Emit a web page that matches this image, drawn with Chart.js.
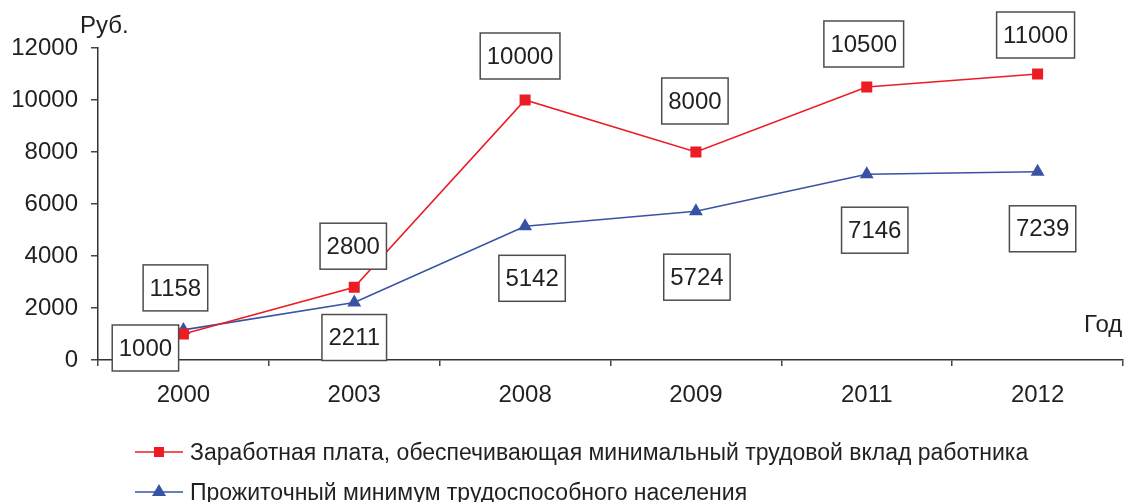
<!DOCTYPE html>
<html>
<head>
<meta charset="utf-8">
<script src="https://cdn.jsdelivr.net/npm/chart.js@4/dist/chart.umd.min.js"></script>
<style>
  html, body { margin: 0; padding: 0; background: #fff; }
  #wrap { width: 1131px; height: 502px; }
</style>
</head>
<body>
<div id="wrap"><canvas id="myChart" width="1131" height="502"></canvas></div>
<script>
const years = ["2000", "2003", "2008", "2009", "2011", "2012"];
const wageValues = [1000, 2800, 10000, 8000, 10500, 11000];
const livingValues = [1158, 2211, 5142, 5724, 7146, 7239];
const yTicks = [0, 2000, 4000, 6000, 8000, 10000, 12000];

const wageName = "Заработная плата, обеспечивающая минимальный трудовой вклад работника";
const livingName = "Прожиточный минимум трудоспособного населения";

const red = "#ed1c24";
const blue = "#3953a4";
const ink = "#231f20";
const font = "'Liberation Sans', Arial, sans-serif";

// where each value box sits relative to its point (px)
const wageBoxOffset = [[-38, 14], [-1, -41], [-5, -44], [-1, -51], [-3, -43], [-2, -39]];
const livingBoxOffset = [[-8, -42], [0, 35], [7, 52], [1, 66], [8, 56], [5, 57]];

const valueBoxes = {
  id: "valueBoxes",
  afterDatasetsDraw(chart) {
    const ctx = chart.ctx;
    ctx.save();
    ctx.font = "24px " + font;
    ctx.textAlign = "center";
    ctx.textBaseline = "middle";
    const sets = [[0, wageBoxOffset], [1, livingBoxOffset]];
    sets.forEach(([di, offs]) => {
      const meta = chart.getDatasetMeta(di);
      const data = chart.data.datasets[di].data;
      meta.data.forEach((pt, i) => {
        const txt = String(data[i]);
        const w = ctx.measureText(txt).width + 13;
        const h = 46;
        const cx = pt.x + offs[i][0];
        const cy = pt.y + offs[i][1];
        ctx.fillStyle = "#fff";
        ctx.fillRect(cx - w / 2, cy - h / 2, w, h);
        ctx.strokeStyle = "#4d4d4d";
        ctx.lineWidth = 1.5;
        ctx.strokeRect(cx - w / 2, cy - h / 2, w, h);
        ctx.fillStyle = ink;
        ctx.fillText(txt, cx, cy + 1);
      });
    });
    ctx.restore();
  },
  afterDraw(chart) {
    const ctx = chart.ctx;
    ctx.save();
    ctx.fillStyle = ink;
    ctx.font = "24px " + font;
    ctx.textBaseline = "alphabetic";
    ctx.textAlign = "left";
    ctx.fillText("Руб.", 80, 33);
    ctx.fillText("Год", 1084, 332);

    // legend
    const rows = [
      { name: wageName, color: red, y: 452, shape: "square" },
      { name: livingName, color: blue, y: 492, shape: "triangle" }
    ];
    rows.forEach(r => {
      ctx.strokeStyle = r.color;
      ctx.lineWidth = 1.5;
      ctx.beginPath();
      ctx.moveTo(135, r.y);
      ctx.lineTo(183, r.y);
      ctx.stroke();
      ctx.fillStyle = r.color;
      if (r.shape === "square") {
        ctx.fillRect(159 - 5, r.y - 5, 10, 10);
      } else {
        ctx.beginPath();
        ctx.moveTo(159, r.y - 8);
        ctx.lineTo(166, r.y + 4);
        ctx.lineTo(152, r.y + 4);
        ctx.closePath();
        ctx.fill();
      }
      ctx.fillStyle = ink;
      ctx.font = "23px " + font;
      ctx.textBaseline = "middle";
      ctx.fillText(r.name, 190, r.y + 2);
    });
    ctx.restore();
  }
};

const ctx = document.getElementById("myChart").getContext("2d");
const myChart = new Chart(ctx, {
  type: "line",
  data: {
    labels: years,
    datasets: [
      {
        label: wageName,
        data: wageValues,
        borderColor: red,
        backgroundColor: red,
        borderWidth: 1.6,
        pointStyle: "rect",
        pointRadius: 7.8,
        pointBorderWidth: 0,
        tension: 0
      },
      {
        label: livingName,
        data: livingValues,
        borderColor: blue,
        backgroundColor: blue,
        borderWidth: 1.6,
        pointStyle: "triangle",
        pointRadius: 8,
        pointBorderWidth: 0,
        tension: 0
      }
    ]
  },
  options: {
    responsive: false,
    animation: false,
    devicePixelRatio: 1,
    layout: { padding: { top: 48, right: 6, left: 0, bottom: 0 } },
    plugins: {
      legend: { display: false },
      tooltip: { enabled: false }
    },
    scales: {
      x: {
        offset: true,
        grid: {
          offset: true,
          drawOnChartArea: false,
          drawTicks: true,
          tickLength: 6,
          color: "#444",
          lineWidth: 1.5
        },
        border: { display: true, color: "#333", width: 1.5 },
        ticks: {
          color: ink,
          font: { family: font, size: 24 },
          padding: 15,
          maxRotation: 0
        },
        afterFit(scale) { scale.height = 142; }
      },
      y: {
        min: 0,
        max: 12000,
        afterBuildTicks(scale) {
          scale.ticks = yTicks.map(v => ({ value: v }));
        },
        grid: {
          drawOnChartArea: false,
          drawTicks: true,
          tickLength: 7,
          color: "#444",
          lineWidth: 1.5
        },
        border: { display: true, color: "#333", width: 1.5 },
        ticks: {
          color: ink,
          font: { family: font, size: 24 },
          padding: 13,
          callback: v => String(v)
        },
        afterFit(scale) { scale.width = 98; }
      }
    }
  },
  plugins: [valueBoxes]
});
</script>
</body>
</html>
